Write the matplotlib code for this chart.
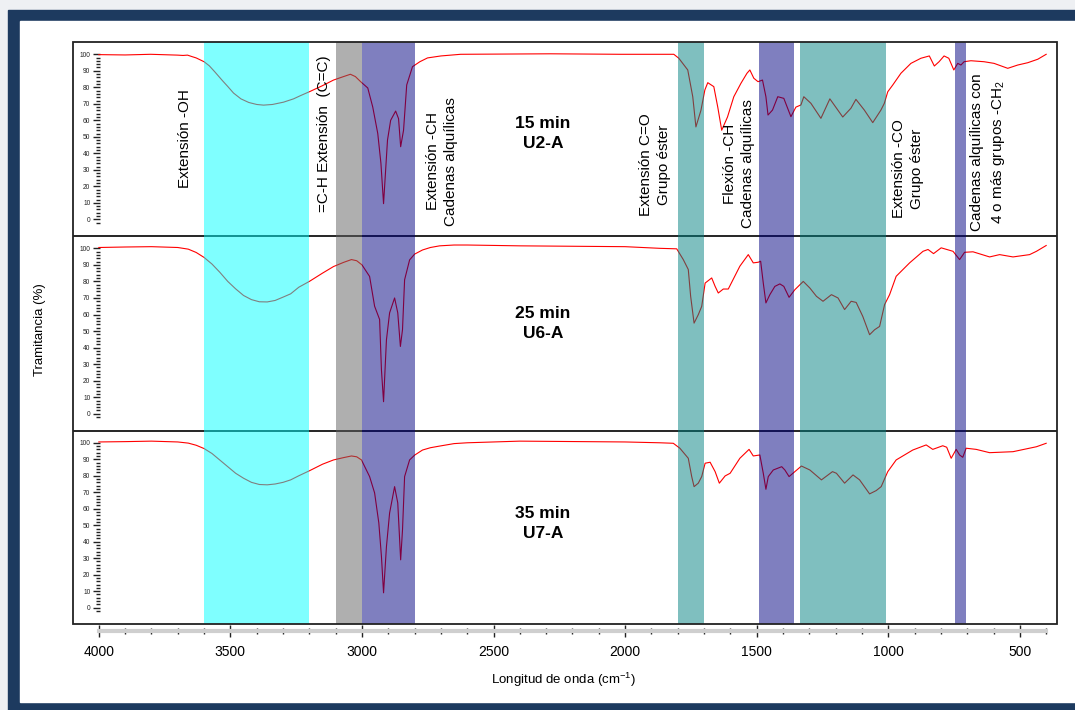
import matplotlib
matplotlib.use('Agg')
import matplotlib.pyplot as plt
from matplotlib.patches import Rectangle
from matplotlib.ticker import FixedLocator, MultipleLocator

plt.rcParams['font.family'] = ['Liberation Sans', 'DejaVu Sans']
plt.rcParams['mathtext.fontset'] = 'custom'
plt.rcParams['mathtext.rm'] = 'Liberation Sans'
plt.rcParams['mathtext.it'] = 'Liberation Sans:italic'

# FTIR spectra, wavenumber (cm-1) vs transmittance (%)
wn_u2 = [4000, 3900, 3803, 3701, 3680, 3663, 3644, 3630, 3613, 3600, 3580, 3560, 3530, 3510, 3488,
         3460, 3430, 3400, 3374, 3340, 3298, 3260, 3233, 3200, 3150, 3108, 3070, 3044, 3025,
         3005, 2978, 2959, 2940, 2928, 2918, 2903, 2891, 2872, 2861, 2853, 2842, 2830, 2808, 2780,
         2751, 2700, 2625, 2283, 2017, 1815, 1796, 1762, 1743, 1731, 1712, 1697, 1686, 1663, 1648,
         1633, 1611, 1587, 1560, 1537, 1526, 1511, 1495, 1478, 1465, 1457, 1440, 1420, 1397, 1370,
         1351, 1332, 1321, 1294, 1256, 1222, 1173, 1142, 1123, 1091, 1059, 1028, 1015, 1002, 983,
         952, 914, 876, 844, 825, 807, 788, 770, 751, 736, 724, 712, 686, 636, 598, 546, 508, 470,
         432, 400]
t_u2 = [99.8, 99.6, 100, 99.5, 99.3, 99.5, 98.5, 97.8, 96.5, 95.5, 93, 89.5, 84, 80.5, 76.5,
        73, 70.8, 69.6, 69.2, 69.6, 71, 73, 75, 77.3, 81, 84.4, 86.5, 87.9, 86.5,
        83.4, 79.6, 68, 52, 34, 9.5, 48, 60, 65.6, 61, 44, 54, 81.4, 92.5, 95.5,
        97.8, 99, 100, 100.3, 100, 100, 97.6, 90.5, 74.3, 56, 66, 78.4, 82.8, 80.4, 68,
        54, 62, 74.3, 82.4, 88.5, 90.5, 85.5, 83.4, 84.4, 74.3, 63.2, 66.2, 74.3, 73.3, 62.2,
        68, 69.3, 74.3, 70.3, 61.2, 73, 62, 67.3, 72.7, 66.2, 58.6, 66.2, 70.3, 77.3, 81.4,
        88.5, 94.5, 97.6, 99, 92.9, 95.5, 99, 97.6, 90.5, 94.5, 93.5, 95.5, 96.1, 95.5, 94.5, 91.5, 93.5, 94.9,
        97, 100]

wn_u6 = [4000, 3900, 3800, 3700, 3660, 3630, 3600, 3570, 3540, 3510, 3480, 3450, 3420, 3390,
         3360, 3330, 3300, 3271, 3240, 3200, 3150, 3108, 3070, 3040, 3020, 3000,
         2971, 2952, 2933, 2926, 2918, 2907, 2895, 2876, 2864, 2854, 2846, 2838, 2819, 2800, 2770,
         2740, 2705, 2650, 2600, 2400, 2000, 1868, 1804, 1779, 1760, 1751, 1738, 1722, 1709, 1696,
         1671, 1658, 1646, 1627, 1608, 1564, 1532, 1513, 1494, 1485, 1475, 1465, 1450, 1431, 1412,
         1397, 1377, 1355, 1323, 1298, 1273, 1248, 1216, 1191, 1166, 1141, 1122, 1097, 1071, 1052,
         1033, 1014, 995, 970, 919, 868, 849, 828, 799, 754, 729, 710, 678, 615, 577, 526, 463, 437, 400]
t_u6 = [100.5, 100.8, 101, 100.5, 99.5, 97.5, 94.5, 90.5, 85.5, 80, 75.5, 71.5, 69, 67.7,
        67.6, 68.5, 70.5, 72.5, 76.5, 80, 85, 89, 91.5, 93.2, 92.5, 90,
        83, 65, 57, 26.5, 7.3, 44.7, 61, 70, 61, 40.7, 50.8, 81, 93, 96.5, 99,
        100.5, 101.5, 102, 102, 101.5, 101, 100, 99.7, 93.2, 87.2, 71, 54.8, 59.9, 64.9, 79,
        82.1, 77, 73, 75.4, 75.4, 89.2, 96.2, 91.2, 91.6, 92.2, 79, 67, 72, 77, 78.5,
        77, 70.4, 75, 80, 76, 71, 68, 72, 70, 63, 68, 67.3, 58.9, 47.8, 50.8,
        52.8, 66, 72, 83.1, 91.2, 98.2, 99.3, 96.8, 100.3, 98.2, 93.2, 97.6, 97.9, 94.8, 96.2, 94.8, 96.2, 98.2, 101.7]

wn_u7 = [4000, 3900, 3800, 3700, 3660, 3630, 3600, 3570, 3540, 3510, 3480, 3450, 3420, 3390,
         3360, 3330, 3300, 3271, 3240, 3200, 3150, 3108, 3070, 3040, 3020, 3002,
         2971, 2952, 2936, 2926, 2918, 2907, 2895, 2876, 2864, 2853, 2846, 2838, 2819, 2800, 2770,
         2740, 2705, 2650, 2600, 2400, 2000, 1868, 1817, 1792, 1760, 1747, 1738, 1722, 1709, 1696,
         1677, 1658, 1642, 1620, 1601, 1564, 1529, 1513, 1488, 1475, 1465, 1456, 1437, 1405, 1393,
         1377, 1355, 1330, 1298, 1254, 1212, 1197, 1166, 1134, 1109, 1071, 1046, 1027, 1002, 970,
         907, 856, 831, 793, 778, 761, 742, 729, 717, 704, 666, 615, 526, 437, 400]
t_u7 = [100.5, 100.7, 101, 100.5, 99.8, 98.5, 96.5, 93.5, 89.5, 85.5, 81.5, 78.5, 76, 74.7,
        74.5, 75, 76, 77.5, 80, 83, 87, 89.6, 91, 92, 91.5, 89.6,
        79.5, 69.6, 51.4, 31, 9, 37, 57.4, 73.4, 63.5, 29, 47, 79.5, 89.6, 92.5, 95.6,
        97, 98, 99.5, 100, 101, 100.5, 100, 99.7, 96.7, 90.6, 79.5, 73.4, 75.5, 79.5, 87.6,
        88.2, 82.5, 75.5, 79.9, 81.5, 90.6, 96, 92, 92.6, 81.5, 71.8, 79.5, 83.5, 85.5, 83.5,
        79.5, 82.5, 85.9, 83.5, 77.5, 82.5, 81.5, 75.5, 80.5, 77.5, 69, 71, 73.4, 82.5, 89.6,
        95.6, 98.7, 96, 98.2, 97.3, 90.6, 96, 92.6, 91.2, 96.7, 96, 94, 94.6, 97.6, 99.7]

spectra = [(wn_u2, t_u2), (wn_u6, t_u6), (wn_u7, t_u7)]
sample_labels = ['15 min\nU2-A', '25 min\nU6-A', '35 min\nU7-A']
label_y = [52.2, 54.5, 51.0]

# assigned absorption bands (cm-1)
band_high = [3600, 3100, 3000, 1800, 1490, 1335, 745]
band_low = [3200, 3000, 2800, 1700, 1360, 1010, 705]
band_colors = ['#00ffff', '#616161', '#000080', '#008080', '#000080', '#008080', '#000080']

band_names = ['Extensión -OH', '=C-H Extensión  (C=C)', 'Extensión -CH\nCadenas alquílicas',
              'Extensión C=O\nGrupo éster', 'Flexión -CH\nCadenas alquílicas',
              'Extensión -CO\nGrupo éster', 'Cadenas alquílicas con\n4 o más grupos -CH$_2$']
name_x = [3674, 3143, 2696, 1888, 1568, 924, 620]
name_y = [49, 51.7, 35.3, 32.9, 33.5, 30.8, 40.8]

W, H = 1075, 710
fig = plt.figure(figsize=(W / 100, H / 100), dpi=100)

# navy slide frame
fig.add_artist(Rectangle((0, 0), 1, 1, transform=fig.transFigure, color='#eef0f3', zorder=-5))
fig.add_artist(Rectangle((8 / W, 0), 1, 1 - 10 / H, transform=fig.transFigure, color='#1d3a5f', zorder=-4))
fig.add_artist(Rectangle((20 / W, 8 / H), 1, 1 - 29 / H, transform=fig.transFigure, color='white', zorder=-3))

left, right = 72.5, 1056.7
tops = [42, 236, 430.5]
bots = [236, 430.5, 624.3]
xlim = (4100, 360)
ylim = (-10.1, 107.45)

for i, (wn, t) in enumerate(spectra):
    ax = fig.add_axes([left / W, 1 - bots[i] / H, (right - left) / W, (bots[i] - tops[i]) / H])
    ax.set_zorder(1)
    ax.plot(wn, t, color='red', lw=0.8)
    ax.set_xlim(xlim)
    ax.set_ylim(ylim)
    ax.set_xticks([])
    for s in ['top', 'right', 'bottom']:
        ax.spines[s].set_visible(False)
    ax.spines['left'].set_position(('data', 3995))
    ax.spines['left'].set_color('none')
    ax.yaxis.set_major_locator(MultipleLocator(10))
    ax.yaxis.set_minor_locator(FixedLocator(list(range(-2, 101, 2))))
    ax.set_yticks(range(0, 101, 10))
    ax.tick_params(axis='y', which='major', length=5, width=1.0, labelsize=4.8, pad=2, colors='#222222')
    ax.tick_params(axis='y', which='minor', length=3, width=1.0, colors='#222222')
    ax.patch.set_alpha(0)
    ax.text(2312, label_y[i], sample_labels[i], ha='center', va='center', fontsize=12.5,
            fontweight='bold', linespacing=1.4)
    if i == 0:
        for name, x, y in zip(band_names, name_x, name_y):
            ax.text(x, y, name, rotation=90, ha='center', va='center', fontsize=11,
                    multialignment='center', linespacing=1.35)

# outer frame with bands and wavenumber ruler
frame = fig.add_axes([left / W, 1 - bots[2] / H, (right - left) / W, (bots[2] - tops[0]) / H])
frame.set_zorder(2)
frame.patch.set_alpha(0)
frame.set_xlim(xlim)
frame.set_ylim(0, 1)
frame.set_yticks([])
for hi, lo, c in zip(band_high, band_low, band_colors):
    frame.axvspan(lo, hi, color=c, alpha=0.5, lw=0, zorder=3)
for b in bots[:2]:
    frame.axhline((bots[2] - b) / (bots[2] - tops[0]), color='black', lw=1.2, zorder=2)
frame.add_patch(Rectangle((0, 0), 1, 1, transform=frame.transAxes, fill=False, lw=1.3,
                          ec='#222222', zorder=4, clip_on=False))
for s in ['top', 'right', 'left']:
    frame.spines[s].set_visible(False)
frame.spines['bottom'].set_position(('outward', 5))
frame.spines['bottom'].set_bounds(400, 4000)
frame.spines['bottom'].set_linewidth(3)
frame.spines['bottom'].set_color('#cfcfcf')
frame.set_xticks(range(500, 4001, 500))
frame.xaxis.set_minor_locator(FixedLocator(list(range(400, 4001, 100))))
frame.tick_params(axis='x', which='major', direction='inout', length=8, width=1.0,
                  labelsize=10, pad=6, color='#222222')
frame.tick_params(axis='x', which='minor', direction='inout', length=5, width=1.0, color='#222222')

fig.text(563 / W, 1 - 680 / H, 'Longitud de onda (cm$^{-1}$)', ha='center', va='center', fontsize=9.5)
fig.text(40 / W, 1 - 330 / H, 'Tramitancia (%)', ha='center', va='center', rotation=90, fontsize=9.5)

fig.savefig('out.png', dpi=100)
